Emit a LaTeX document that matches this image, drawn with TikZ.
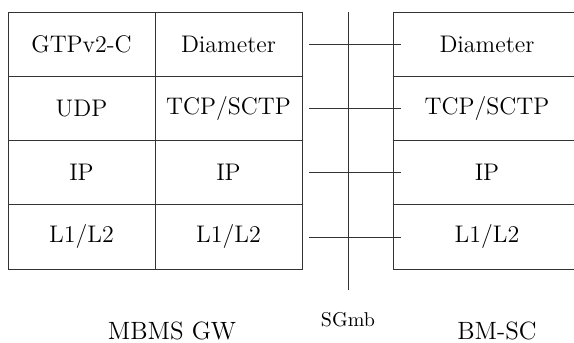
\documentclass[tikz,border=0pt]{standalone}
\usetikzlibrary{positioning}
\tikzset{
	x=0.5pt,
	y=-0.5pt,
	every cell/.style={
		draw=black!80,
		inner sep=0pt,
		minimum width=73.5pt,
		minimum height=32.1pt,
		font=\fontsize{12}{14}\selectfont
	},
	cell/.style={every cell},
	wide cell/.style={every cell, minimum width=94pt},
	link/.style={draw=black!80, shorten <=3.5pt, shorten >=-4pt}
}

\begin{document}
\begin{tikzpicture}
	\useasboundingbox (0,0) rectangle (574,343);
	% MBMS GW stack
	\node [cell] (g1) at (81.5,44) {GTPv2-C};
	\node [cell] (g2) at (81.5,108.3) {UDP};
	\node [cell] (g3) at (81.5,172.6) {IP};
	\node [cell] (g4) at (81.5,236.9) {L1/L2};
	\node [cell] (d1) at (228.5,44) {Diameter};
	\node [cell] (d2) at (228.5,108.3) {TCP/SCTP};
	\node [cell] (d3) at (228.5,172.6) {IP};
	\node [cell] (d4) at (228.5,236.9) {L1/L2};
	
	% BM-SC stack
	\node [wide cell] (b1) at (487,44) {Diameter};
	\node [wide cell] (b2) at (487,108.3) {TCP/SCTP};
	\node [wide cell] (b3) at (487,172.6) {IP};
	\node [wide cell] (b4) at (487,236.9) {L1/L2};
	
	% SGmb reference point
	\coordinate (top) at (348,12);
	\coordinate (bot) at (348,290);
	\draw [draw=black!80] (top) -- (bot);
	\foreach \i in {1,...,4}
		\draw [link] (d\i) -- (b\i);
	
	\node (gw) at (172,331) {\fontsize{12.5}{15}\selectfont MBMS GW};
	\node (sgmb) at (348,320) {\fontsize{10}{12}\selectfont SGmb};
	\node (bmsc) at (497,331) {\fontsize{12.5}{15}\selectfont BM-SC};
\end{tikzpicture}
\end{document}
